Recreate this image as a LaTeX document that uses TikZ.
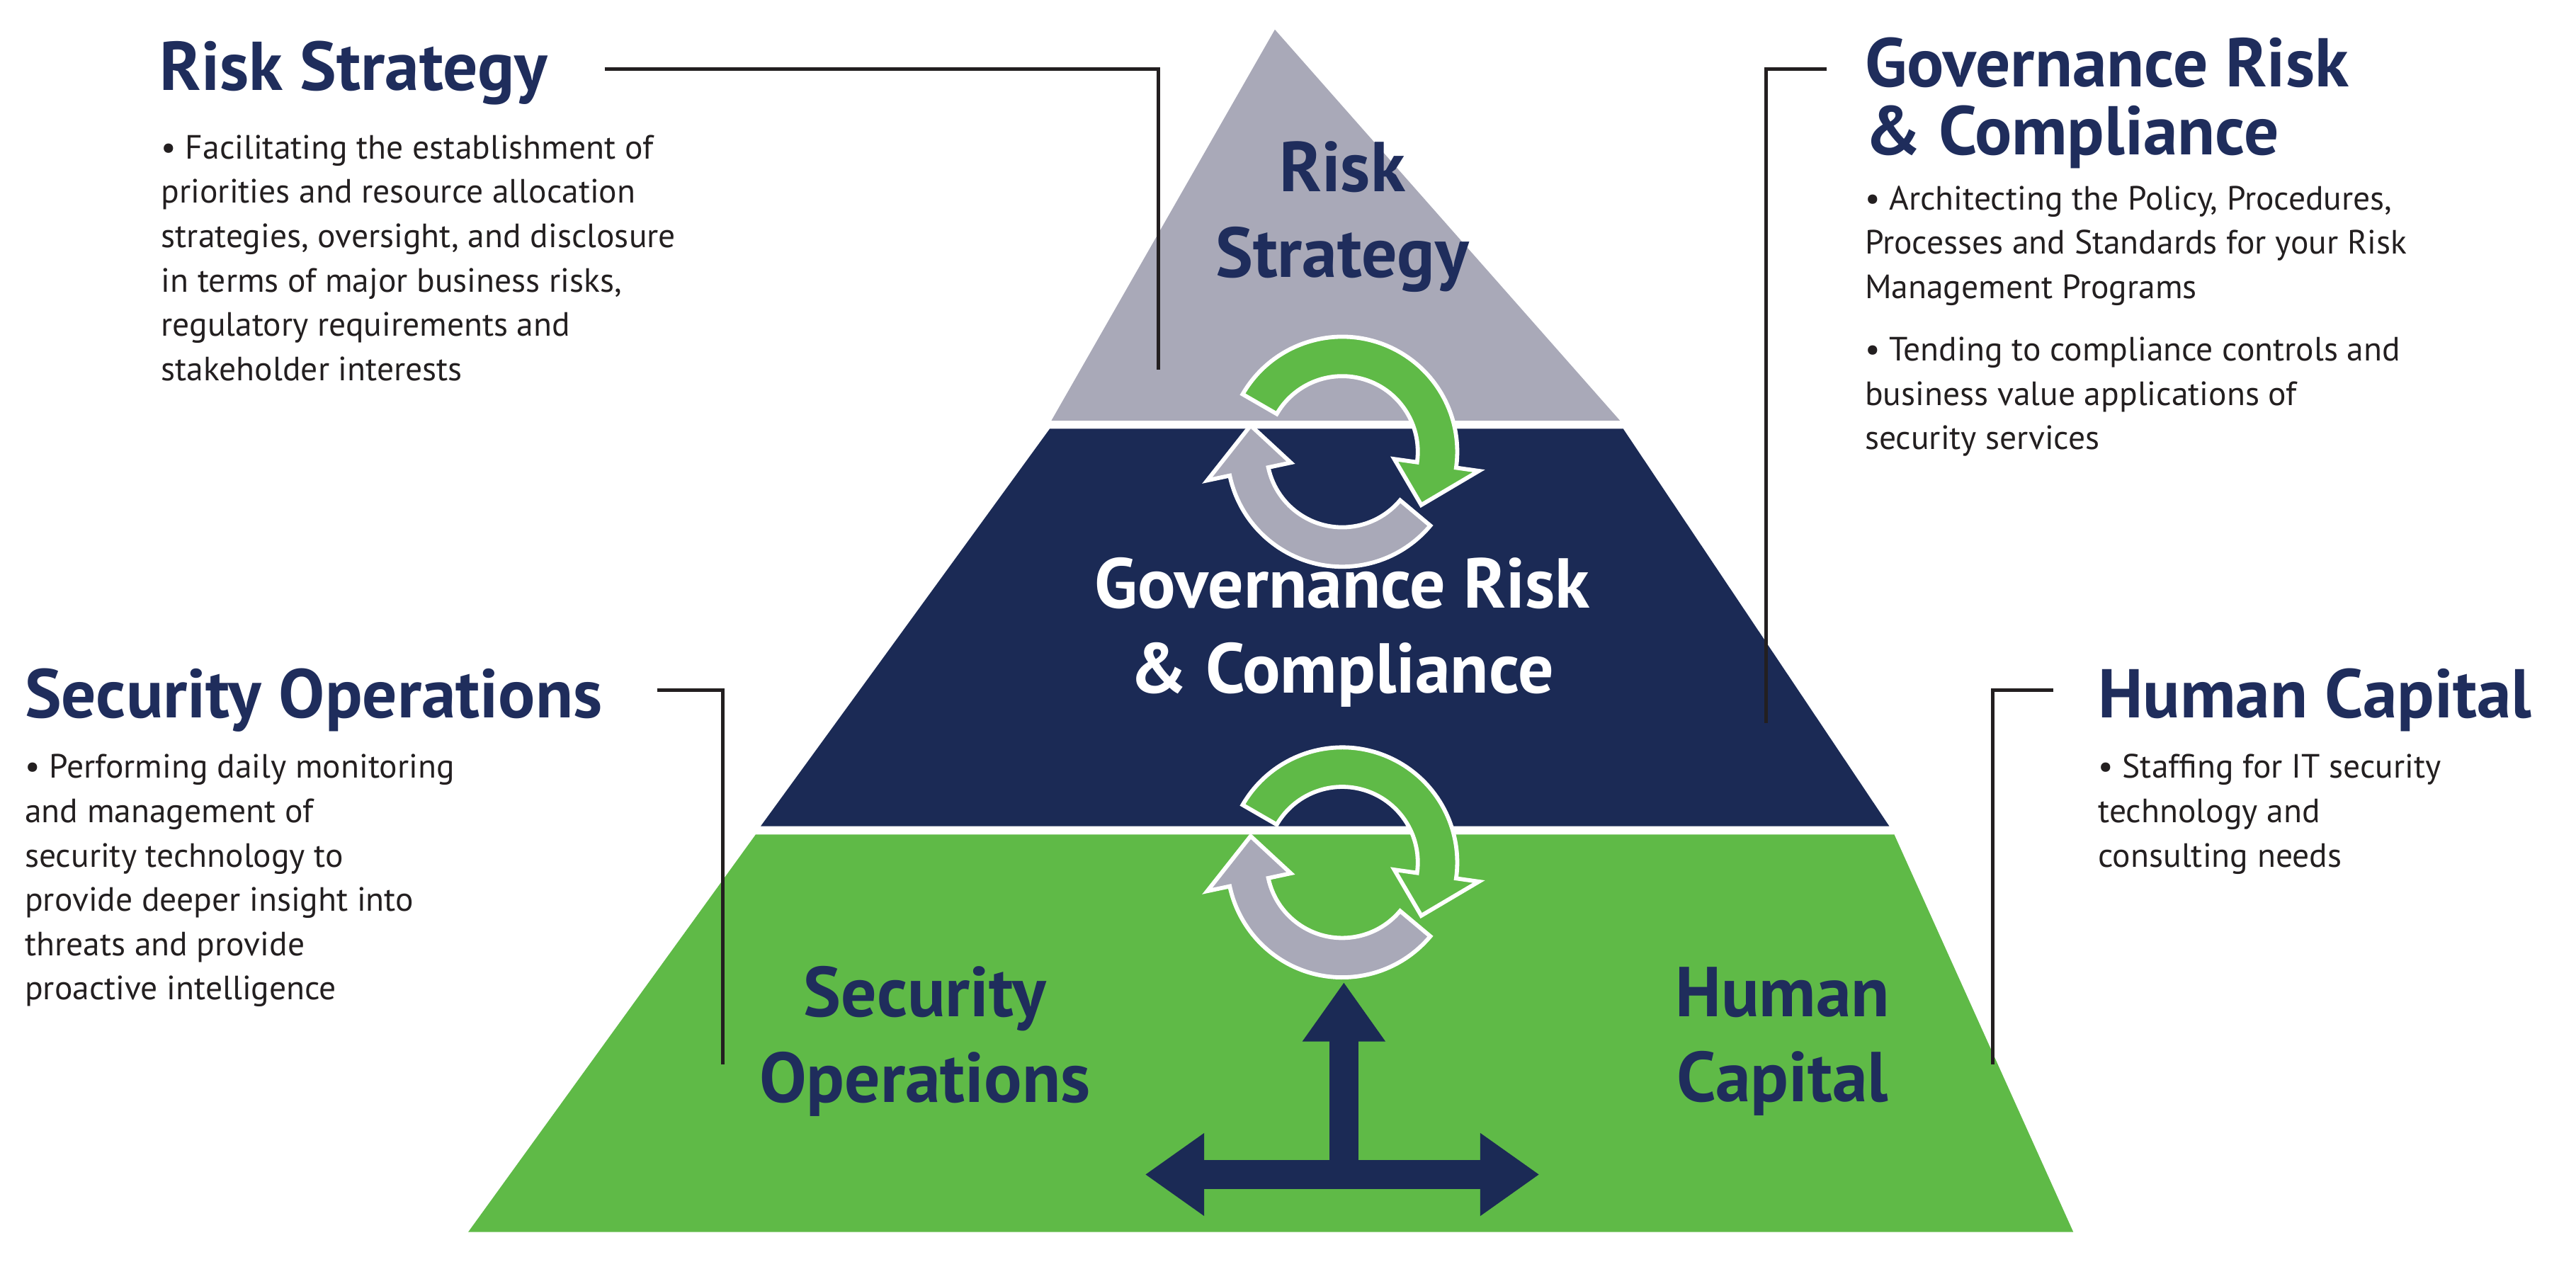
\documentclass[tikz,border=0pt]{standalone}
\usepackage{fontspec}
\setmainfont{PT Sans}
\usetikzlibrary{arrows.meta,calc}
\definecolor{pgray}{HTML}{A9A9B8}
\definecolor{pnavy}{HTML}{1B2A55}
\definecolor{pgreen}{HTML}{5FBA47}
\definecolor{tnavy}{HTML}{1F2D5C}
\definecolor{tbody}{HTML}{231F20}
\tikzset{
  title/.style={font=\fontsize{42}{36}\selectfont\bfseries, text=tnavy, anchor=base west, inner sep=0},
  body/.style={font=\fontsize{20.5}{27}\selectfont, text=tbody, anchor=north west, align=left, inner sep=0},
  plabel/.style={font=\fontsize{43}{52}\selectfont\bfseries, align=center, inner sep=0},
  leader/.style={draw=tbody, line width=2pt},
}
\newcommand{\ringarrow}[6]{% center, start angle, end angle, tip angle, color, name
  \coordinate (#6) at #1;
  \path[fill=#5, draw=white, line width=2.5pt, line join=miter]
    ($(#6)+(#2:70)$) arc[start angle=#2, end angle=#3, radius=70]
    -- ($(#6)+(#3:84)$) -- ($(#6)+(#4:58)$) -- ($(#6)+(#3:32)$)
    -- ($(#6)+(#3:46)$) arc[start angle=#3, end angle=#2, radius=46] -- cycle;
}
\begin{document}
\begin{tikzpicture}[x=1pt,y=1pt]
\useasboundingbox (0,0) rectangle (1568,768);
% pyramid
\path[fill=pgray] (776,750) -- (986,512) -- (640,512) -- cycle;
\path[fill=pnavy] (639,507) -- (988,507) -- (1150,265) -- (463,265) -- cycle;
\path[fill=pgreen] (460,260) -- (1153,260) -- (1262,18) -- (285,18) -- cycle;
% ring arrows
\ringarrow{(817,493)}{-40}{-168}{-196}{pgray}{ca}
\ringarrow{(817,493)}{150}{-8}{-34}{pgreen}{cb}
\ringarrow{(817,243)}{-40}{-168}{-196}{pgray}{cc}
\ringarrow{(817,243)}{150}{-8}{-34}{pgreen}{cd}
% T arrow
\coordinate (tc) at (818,53);
\coordinate (tt) at (818,170);
\coordinate (tl) at (697,53);
\coordinate (tr) at (937,53);
\draw[pnavy, line width=18pt, -{Triangle[length=36pt,width=48pt]}] (tc) -- (tt);
\draw[pnavy, line width=18pt, {Triangle[length=36pt,width=48pt]}-{Triangle[length=36pt,width=48pt]}] (tl) -- (tr);
% pyramid labels
\node[plabel, text=tnavy] (lrs) at (817,636) {Risk\\Strategy};
\node[plabel, text=white] (lgov) at (817,383) {Governance Risk\\\& Compliance};
\node[plabel, text=tnavy] (lsec) at (563,134) {Security\\Operations};
\node[plabel, text=tnavy] (lhum) at (1085,134) {Human\\Capital};
% titles
\node[title] (trs) at (97,713) {Risk Strategy};
\node[title] (tgov) at (1135,715) {Governance Risk};
\node[title] (tgov2) at (1135,674) {\& Compliance};
\node[title] (tsec) at (15,331) {Security Operations};
\node[title] (thum) at (1277,331) {Human Capital};
% bodies
\node[body] (brs) at (98,686) {• Facilitating the establishment of\\priorities and resource allocation\\strategies, oversight, and disclosure\\in terms of major business risks,\\regulatory requirements and\\stakeholder interests};
\node[body] (bgov1) at (1135,655) {• Architecting the Policy, Procedures,\\Processes and Standards for your Risk\\Management Programs};
\node[body] (bgov2) at (1135,563) {• Tending to compliance controls and\\business value applications of\\security services};
\node[body] (bsec) at (15,309) {• Performing daily monitoring\\and management of\\security technology to\\provide deeper insight into\\threats and provide\\proactive intelligence};
\node[body] (bhum) at (1277,309) {• Staffing for IT security\\technology and\\consulting needs};
% leaders
\coordinate (a0) at (368,726); \coordinate (a1) at (705,726); \coordinate (a2) at (705,543);
\draw[leader] (a0) -- (a1) -- (a2);
\coordinate (g0) at (1112,726); \coordinate (g1) at (1075,726); \coordinate (g2) at (1075,328);
\draw[leader] (g0) -- (g1) -- (g2);
\coordinate (s0) at (400,348); \coordinate (s1) at (440,348); \coordinate (s2) at (440,120);
\draw[leader] (s0) -- (s1) -- (s2);
\coordinate (h0) at (1250,348); \coordinate (h1) at (1213,348); \coordinate (h2) at (1213,120);
\draw[leader] (h0) -- (h1) -- (h2);
\end{tikzpicture}
\end{document}
